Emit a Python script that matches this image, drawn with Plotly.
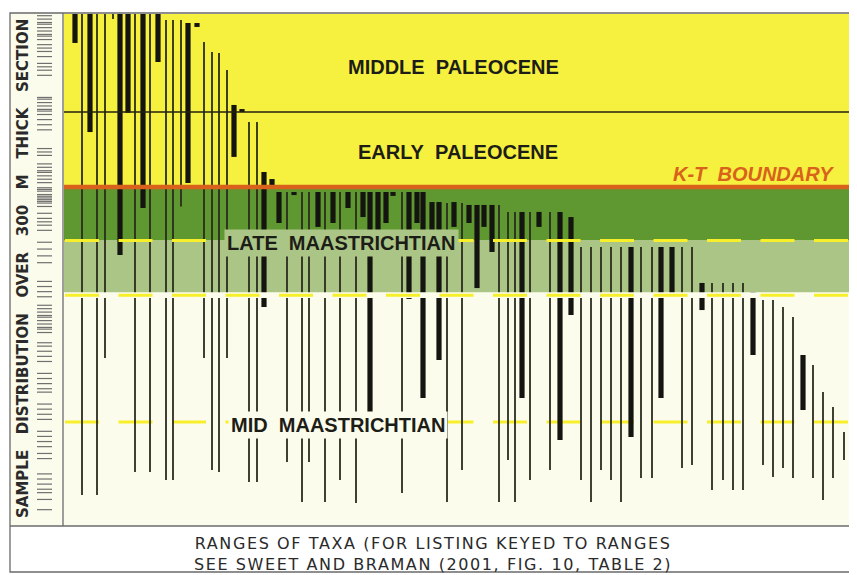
import plotly.graph_objects as go

# the page adds an 8px body margin, so the figure is drawn 8px smaller and shifted
OFF = 8
W, H = 857 - OFF, 575 - OFF

# ---- taxon ranges (column position along the chart, top and base in m above base of section) ----
taxon_col = [11, 18, 26, 33, 41, 49, 56, 64, 71, 79, 86, 94, 102, 109, 117, 124, 133, 140, 148, 155,
             163, 170, 178, 185, 193, 200, 208, 215, 223, 230, 238, 245, 254, 261, 269, 276, 284, 292, 299, 306,
             314, 322, 329, 338, 345, 353, 359, 368, 375, 383, 390, 398, 405, 413, 420, 428, 435, 444, 451, 458,
             466, 475, 486, 496, 507, 517, 527, 537, 547, 557, 567, 577, 588, 597, 608, 618, 628, 638, 648, 659,
             669, 679, 689, 699, 709, 719, 729, 739, 749, 759, 769, 780]
range_top_m = [300, 300, 300, 300, 300, 300, 300, 300, 300, 300, 300, 300, 296.5, 296.5, 296.5, 294.7, 294.7, 283.6, 277.7, 277.1,
               267.1, 246.6, 244.2, 236.6, 236.6, 207.2, 203.1, 195.5, 195.5, 195.5, 195.5, 195.5, 195.5, 195.5, 195.5, 195.5, 195.5, 195.5, 195.5, 195.5,
               195.5, 195.5, 195.5, 195.5, 195.5, 195.5, 195.5, 189.6, 189.6, 189.0, 189.6, 189.0, 187.9, 187.9, 187.9, 187.9, 187.9, 183.8, 183.8, 183.8,
               183.8, 183.8, 183.8, 183.8, 180.8, 163.2, 163.2, 163.2, 163.2, 163.2, 163.2, 163.2, 163.2, 163.2, 163.2, 163.2, 163.2, 142.1, 142.1, 142.1,
               142.1, 142.1, 136.8, 132.1, 132.1, 128.0, 122.1, 99.8, 93.9, 78.1, 69.3, 54.6]
range_base_m = [283.0, 17.6, 230.7, 17.6, 98.0, 297.0, 158.5, 242.0, 31.1, 186.1, 31.1, 271.8, 26.4, 26.4, 187.0, 200.8, 292.4, 98.0, 32.3, 31.1,
                98.0, 216.1, 242.5, 25.2, 25.2, 128.0, 198.4, 177.3, 37.0, 193.7, 13.5, 37.0, 175.0, 13.5, 177.3, 26.4, 186.1, 12.9, 180.8, 51.7,
                172.0, 177.3, 193.2, 18.8, 132.7, 177.3, 74.6, 172.0, 96.9, 13.5, 175.0, 32.3, 177.3, 139.1, 175.0, 160.3, 13.5, 38.2, 13.5, 74.6,
                26.4, 175.0, 32.3, 49.9, 123.3, 26.4, 13.5, 32.3, 26.4, 13.5, 51.7, 27.6, 27.6, 74.6, 133.9, 33.5, 35.2, 126.2, 20.5, 26.4,
                20.5, 20.5, 99.8, 35.2, 28.2, 33.5, 27.6, 67.5, 27.6, 14.7, 27.6, 38.2]
abundant = [1, 0, 1, 0, 0, 0, 1, 1, 0, 1, 0, 1, 0, 0, 0, 1, 1, 0, 0, 0,
             0, 1, 1, 0, 0, 1, 1, 1, 0, 1, 0, 0, 1, 0, 1, 0, 1, 0, 1, 1,
             1, 1, 1, 0, 1, 1, 1, 1, 1, 0, 1, 0, 1, 1, 1, 1, 0, 0, 0, 1,
             0, 1, 0, 1, 1, 0, 0, 0, 0, 0, 1, 0, 0, 1, 1, 0, 0, 1, 0, 0,
             0, 0, 1, 0, 0, 0, 0, 1, 0, 0, 0, 0]

# ---- sample levels (m) shown in the left strip ----
sample_levels_m = [299, 297, 295, 294, 292, 290, 288, 287, 285, 282, 280, 278, 275, 271, 269, 267, 264,
                   251, 250, 248, 246, 244, 243, 241, 238, 235, 232, 221, 219, 217,
                   212, 210, 208, 207, 205, 203, 201, 198, 197, 196, 194, 193, 192, 191, 190, 189, 187,
                   183, 180, 178, 176, 173, 166, 162, 158, 154, 143, 140, 137, 134,
                   129, 127, 125, 123, 122, 120, 118, 116, 115, 113, 107, 105, 102, 99, 96,
                   89, 86, 83, 80, 78, 71, 68, 65, 62, 55, 52, 49, 46, 42, 39,
                   30, 27, 24, 21, 19, 15, 9]

# ---- zone boundaries (m) ----
section_top_m = 300
middle_early_paleocene_m = 242.5
kt_boundary_m = 198.4
upper_late_maas_base_m = 167.3
late_mid_maas_m = 136.2
mid_maas_marker_m = 60.5

zone_labels = ["MIDDLE\u00a0\u00a0PALEOCENE", "EARLY\u00a0\u00a0PALEOCENE",
               "LATE\u00a0\u00a0MAASTRICHTIAN", "MID\u00a0\u00a0MAASTRICHTIAN"]
zone_label_col = [389, 394, 277, 274]
zone_label_m = [268.9, 219.0, 165.6, 58.7]

YELLOW = "#f6f03e"
DKGREEN = "#5f9830"
LTGREEN = "#abc586"
CREAM = "#fcfcec"
DASHY = "#f7ef2a"
ORANGE = "#d8621c"


def seg(xs, y0s, y1s):
    X, Y = [], []
    for x, a, b in zip(xs, y0s, y1s):
        X += [x, x, None]
        Y += [a, b, None]
    return X, Y


def px(x):
    return (x - OFF) / W


def py(y):
    return 1 - (y - OFF) / H


fig = go.Figure()

thin = [i for i, a in enumerate(abundant) if not a]
thick = [i for i, a in enumerate(abundant) if a]
tx, ty = seg([taxon_col[i] for i in thin], [range_top_m[i] for i in thin], [range_base_m[i] for i in thin])
fig.add_trace(go.Scatter(x=tx, y=ty, mode="lines", line=dict(color="#2a2c1e", width=1.8),
                         hoverinfo="skip", showlegend=False))
kx, ky = seg([taxon_col[i] for i in thick], [range_top_m[i] for i in thick], [range_base_m[i] for i in thick])
fig.add_trace(go.Scatter(x=kx, y=ky, mode="lines", line=dict(color="#141410", width=5.2),
                         hoverinfo="skip", showlegend=False))

# sample strip
sx, sy = [], []
for lv in sample_levels_m:
    sx += [27, 42, None]
    sy += [lv, lv, None]
fig.add_trace(go.Scatter(x=sx, y=sy, xaxis="x2", yaxis="y", mode="lines",
                         line=dict(color="#707070", width=1.2), hoverinfo="skip", showlegend=False))

shapes = []
for y0, y1, c in [(kt_boundary_m, section_top_m, YELLOW), (upper_late_maas_base_m, kt_boundary_m, DKGREEN),
                  (late_mid_maas_m, upper_late_maas_base_m, LTGREEN), (0, late_mid_maas_m, CREAM)]:
    shapes.append(dict(type="rect", xref="x", yref="y", x0=0, x1=788, y0=y0, y1=y1,
                       fillcolor=c, line=dict(width=0), layer="below"))
DASH = "34px,19.5px"
shapes.append(dict(type="line", xref="x", yref="y", x0=1, x1=788, y0=mid_maas_marker_m, y1=mid_maas_marker_m,
                   line=dict(color=DASHY, width=3, dash=DASH), layer="below"))
shapes.append(dict(type="line", xref="x", yref="y", x0=0, x1=788, y0=middle_early_paleocene_m,
                   y1=middle_early_paleocene_m, line=dict(color="#222211", width=1.6)))
shapes.append(dict(type="line", xref="x", yref="y", x0=0, x1=788, y0=kt_boundary_m, y1=kt_boundary_m,
                   line=dict(color=ORANGE, width=4.5)))
shapes.append(dict(type="rect", xref="x", yref="y", x0=0, x1=788, y0=late_mid_maas_m - 3.0,
                   y1=late_mid_maas_m + 0.4, fillcolor=CREAM, line=dict(width=0)))
shapes.append(dict(type="line", xref="x", yref="y", x0=1, x1=788, y0=late_mid_maas_m - 1.3,
                   y1=late_mid_maas_m - 1.3, line=dict(color=DASHY, width=3, dash=DASH)))
shapes.append(dict(type="line", xref="x", yref="y", x0=1, x1=788, y0=upper_late_maas_base_m - 0.3,
                   y1=upper_late_maas_base_m - 0.3, line=dict(color=DASHY, width=3, dash=DASH)))

FR = dict(color="#6a6a6a", width=1.3)
shapes.append(dict(type="rect", xref="paper", yref="paper", x0=px(10), x1=px(853), y0=py(572), y1=py(13),
                   line=FR))
shapes.append(dict(type="line", xref="paper", yref="paper", x0=px(10), x1=px(853), y0=py(526), y1=py(526),
                   line=FR))
shapes.append(dict(type="line", xref="paper", yref="paper", x0=px(63), x1=px(63), y0=py(526), y1=py(13),
                   line=FR))

LBL = dict(family="Liberation Sans, Arial, sans-serif", size=20, color="#1d1d18", weight="bold")
ann = []
for t, c, m in zip(zone_labels, zone_label_col, zone_label_m):
    a = dict(text=t, x=c, y=m, xref="x", yref="y", showarrow=False, font=LBL,
             xanchor="center", yanchor="middle")
    if t.startswith("LATE"):
        a.update(bgcolor=LTGREEN, borderpad=2)
    elif t.startswith("MID\u00a0"):
        a.update(bgcolor=CREAM, borderpad=2)
    ann.append(a)
ann.append(dict(text="<i>K-T\u00a0\u00a0BOUNDARY</i>", x=689, y=206, xref="x", yref="y", showarrow=False,
                xanchor="center", yanchor="middle",
                font=dict(family="Liberation Sans, Arial, sans-serif", size=20, color=ORANGE, weight="bold")))
ann.append(dict(text="SAMPLE\u00a0\u00a0\u00a0DISTRIBUTION\u00a0\u00a0\u00a0OVER\u00a0\u00a0\u00a0300\u00a0\u00a0\u00a0M"
                     "\u00a0\u00a0\u00a0THICK\u00a0\u00a0\u00a0SECTION",
                x=px(23), y=py(269), xref="paper", yref="paper", showarrow=False, textangle=-90,
                xanchor="center", yanchor="middle",
                font=dict(family="DejaVu Sans, sans-serif", size=15, color="#2a2a2a", weight="bold")))
ann.append(dict(text="<span style='letter-spacing:1.6px'>RANGES OF TAXA (FOR LISTING KEYED TO RANGES</span><br>"
                     "<span style='letter-spacing:1.6px'>SEE SWEET AND BRAMAN (2001, FIG. 10, TABLE 2)</span>",
                x=px(433), y=py(554), xref="paper", yref="paper", showarrow=False,
                xanchor="center", yanchor="middle",
                font=dict(family="DejaVu Sans, sans-serif", size=16, color="#2a2a2a")))

fig.update_layout(
    width=W, height=H, margin=dict(l=0, r=0, t=0, b=0),
    paper_bgcolor="white", plot_bgcolor=CREAM,
    xaxis=dict(domain=[px(64), px(852)], range=[0, 788], visible=False, fixedrange=True),
    xaxis2=dict(domain=[px(10), px(63)], range=[0, 53], visible=False, anchor="y", fixedrange=True),
    yaxis=dict(domain=[py(525), py(14)], range=[0, 300], visible=False, fixedrange=True),
    shapes=shapes, annotations=ann,
)

fig.write_html("out.html")
